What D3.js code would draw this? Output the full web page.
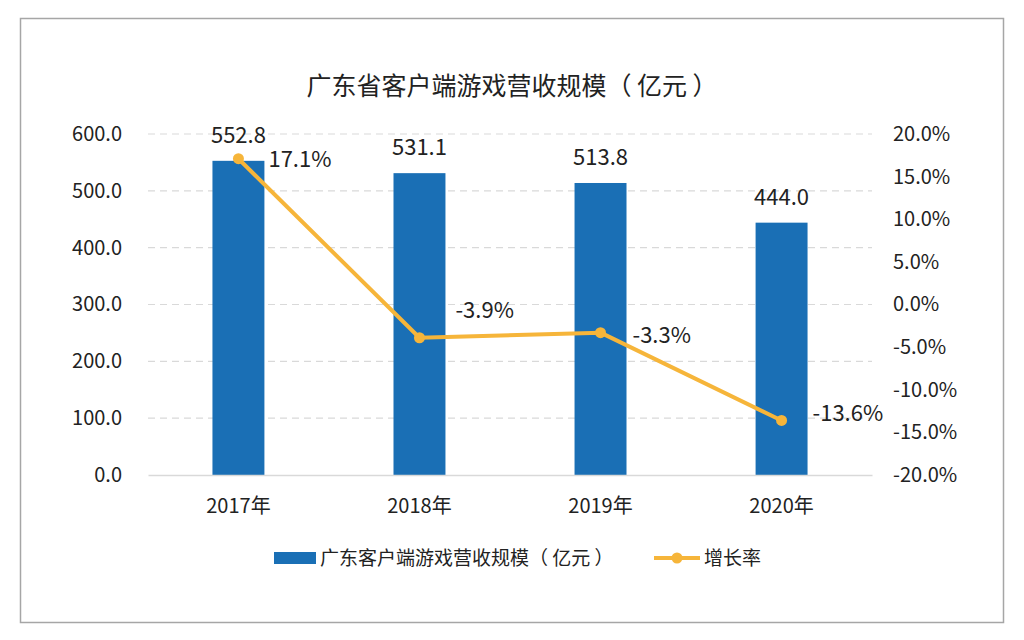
<!DOCTYPE html>
<html>
<head>
<meta charset="utf-8">
<script src="https://cdn.jsdelivr.net/npm/d3@7"></script>
<style>
  body { margin: 0; background: #fff; }
  text { font-family: "Noto Sans CJK SC", "Noto Sans", sans-serif; fill: #222; }
</style>
</head>
<body>
<div id="wrapper"></div>
<script>
  // DATA
  const years = ['2017年', '2018年', '2019年', '2020年']
  const revenue = [552.8, 531.1, 513.8, 444.0]
  const growth = [17.1, -3.9, -3.3, -13.6]
  const leftTicks = [0, 100, 200, 300, 400, 500, 600]
  const rightTicks = [-20, -15, -10, -5, 0, 5, 10, 15, 20]
  const title = '广东省客户端游戏营收规模（ 亿元 ）'
  const barName = '广东客户端游戏营收规模（ 亿元 ）'
  const lineName = '增长率'

  // label nudges for the growth labels (dx, dy), as placed in the original
  const growthLabelShift = [[30, 1], [36, -27], [32, 3], [31, -7]]

  const barColor = '#1a6fb5'
  const lineColor = '#f6b53a'

  // plain hyphen minus like the original
  const fmt = d3.formatLocale({ decimal: '.', thousands: ',', grouping: [3], currency: ['', ''], minus: '-' }).format('.1f')
  const pct = d => fmt(d) + '%'

  // DIMENSIONS
  const dimensions = {
    width: 1024,
    height: 640,
    margin: { top: 134, right: 152, bottom: 165, left: 148 }
  }
  dimensions.boundedWidth = dimensions.width - dimensions.margin.left - dimensions.margin.right
  dimensions.boundedHeight = dimensions.height - dimensions.margin.top - dimensions.margin.bottom

  const wrapper = d3.select('#wrapper').append('svg')
    .attr('width', dimensions.width)
    .attr('height', dimensions.height)

  // outer frame
  wrapper.append('rect')
    .attr('x', 20.5).attr('y', 18.5)
    .attr('width', 983).attr('height', 604)
    .attr('fill', '#fff')
    .attr('stroke', '#a6a6a6')
    .attr('stroke-width', 1.5)

  wrapper.append('text')
    .attr('x', 512).attr('y', 95)
    .attr('text-anchor', 'middle')
    .style('font-size', '25px')
    .text(title)

  const bounds = wrapper.append('g')
    .attr('transform', `translate(${dimensions.margin.left},${dimensions.margin.top})`)

  // SCALES
  const xScale = d3.scaleBand()
    .domain(years)
    .range([0, dimensions.boundedWidth])
    .paddingInner(0.713)
    .paddingOuter(0.356)

  const yScale = d3.scaleLinear()
    .domain([0, 600])
    .range([dimensions.boundedHeight, 0])

  const yRight = d3.scaleLinear()
    .domain([-20, 20])
    .range([dimensions.boundedHeight, 0])

  // GRID
  bounds.append('g')
    .selectAll('line')
    .data(leftTicks.filter(d => d > 0))
    .join('line')
    .attr('x1', 0).attr('x2', dimensions.boundedWidth)
    .attr('y1', d => yScale(d)).attr('y2', d => yScale(d))
    .attr('stroke', '#d9d9d9')
    .attr('stroke-width', 1.2)
    .attr('stroke-dasharray', '7,5')

  // AXES
  const styleTicks = g => g.selectAll('text')
    .style('font-size', '20px')
    .style('font-family', '"Noto Sans CJK SC", sans-serif')
    .attr('fill', '#222')

  const yAxisLeft = bounds.append('g')
    .call(d3.axisLeft(yScale).tickValues(leftTicks).tickFormat(fmt).tickSize(0).tickPadding(26))
  yAxisLeft.select('.domain').remove()
  styleTicks(yAxisLeft)

  const yAxisRight = bounds.append('g')
    .attr('transform', `translate(${dimensions.boundedWidth},0)`)
    .call(d3.axisRight(yRight).tickValues(rightTicks).tickFormat(pct).tickSize(0).tickPadding(21))
  yAxisRight.select('.domain').remove()
  styleTicks(yAxisRight)

  const xAxis = bounds.append('g')
    .attr('transform', `translate(0,${dimensions.boundedHeight})`)
    .call(d3.axisBottom(xScale).tickSize(0).tickPadding(24))
  xAxis.select('.domain').attr('stroke', '#d9d9d9').attr('stroke-width', 1.5)
  styleTicks(xAxis)

  // BARS
  bounds.selectAll('rect.bar')
    .data(revenue)
    .join('rect')
    .attr('class', 'bar')
    .attr('x', (d, i) => xScale(years[i]))
    .attr('y', d => yScale(d))
    .attr('width', xScale.bandwidth())
    .attr('height', d => dimensions.boundedHeight - yScale(d))
    .attr('fill', barColor)

  xAxis.raise()

  bounds.selectAll('text.barLabel')
    .data(revenue)
    .join('text')
    .attr('class', 'barLabel')
    .attr('x', (d, i) => xScale(years[i]) + xScale.bandwidth() / 2)
    .attr('y', d => yScale(d) - 18)
    .attr('text-anchor', 'middle')
    .style('font-size', '22px')
    .text(fmt)

  // LINE
  const cx = (d, i) => xScale(years[i]) + xScale.bandwidth() / 2
  const line = d3.line()
    .x(cx)
    .y(d => yRight(d))

  bounds.append('path')
    .datum(growth)
    .attr('d', line)
    .attr('fill', 'none')
    .attr('stroke', lineColor)
    .attr('stroke-width', 4)
    .attr('stroke-linejoin', 'round')

  bounds.selectAll('circle')
    .data(growth)
    .join('circle')
    .attr('cx', cx)
    .attr('cy', d => yRight(d))
    .attr('r', 5.5)
    .attr('fill', lineColor)

  bounds.selectAll('text.growthLabel')
    .data(growth)
    .join('text')
    .attr('class', 'growthLabel')
    .attr('x', (d, i) => cx(d, i) + growthLabelShift[i][0])
    .attr('y', (d, i) => yRight(d) + growthLabelShift[i][1])
    .attr('dy', '0.35em')
    .style('font-size', '22px')
    .text(pct)

  // LEGEND
  const legend = wrapper.append('g')
  legend.append('rect')
    .attr('x', 274).attr('y', 552)
    .attr('width', 42).attr('height', 12)
    .attr('fill', barColor)
  legend.append('text')
    .attr('x', 320).attr('y', 558).attr('dy', '0.35em')
    .style('font-size', '19px')
    .text(barName)
  legend.append('line')
    .attr('x1', 654).attr('x2', 700)
    .attr('y1', 558).attr('y2', 558)
    .attr('stroke', lineColor).attr('stroke-width', 4)
  legend.append('circle')
    .attr('cx', 677).attr('cy', 558).attr('r', 5.5)
    .attr('fill', lineColor)
  legend.append('text')
    .attr('x', 704).attr('y', 558).attr('dy', '0.35em')
    .style('font-size', '19px')
    .text(lineName)
</script>
</body>
</html>
